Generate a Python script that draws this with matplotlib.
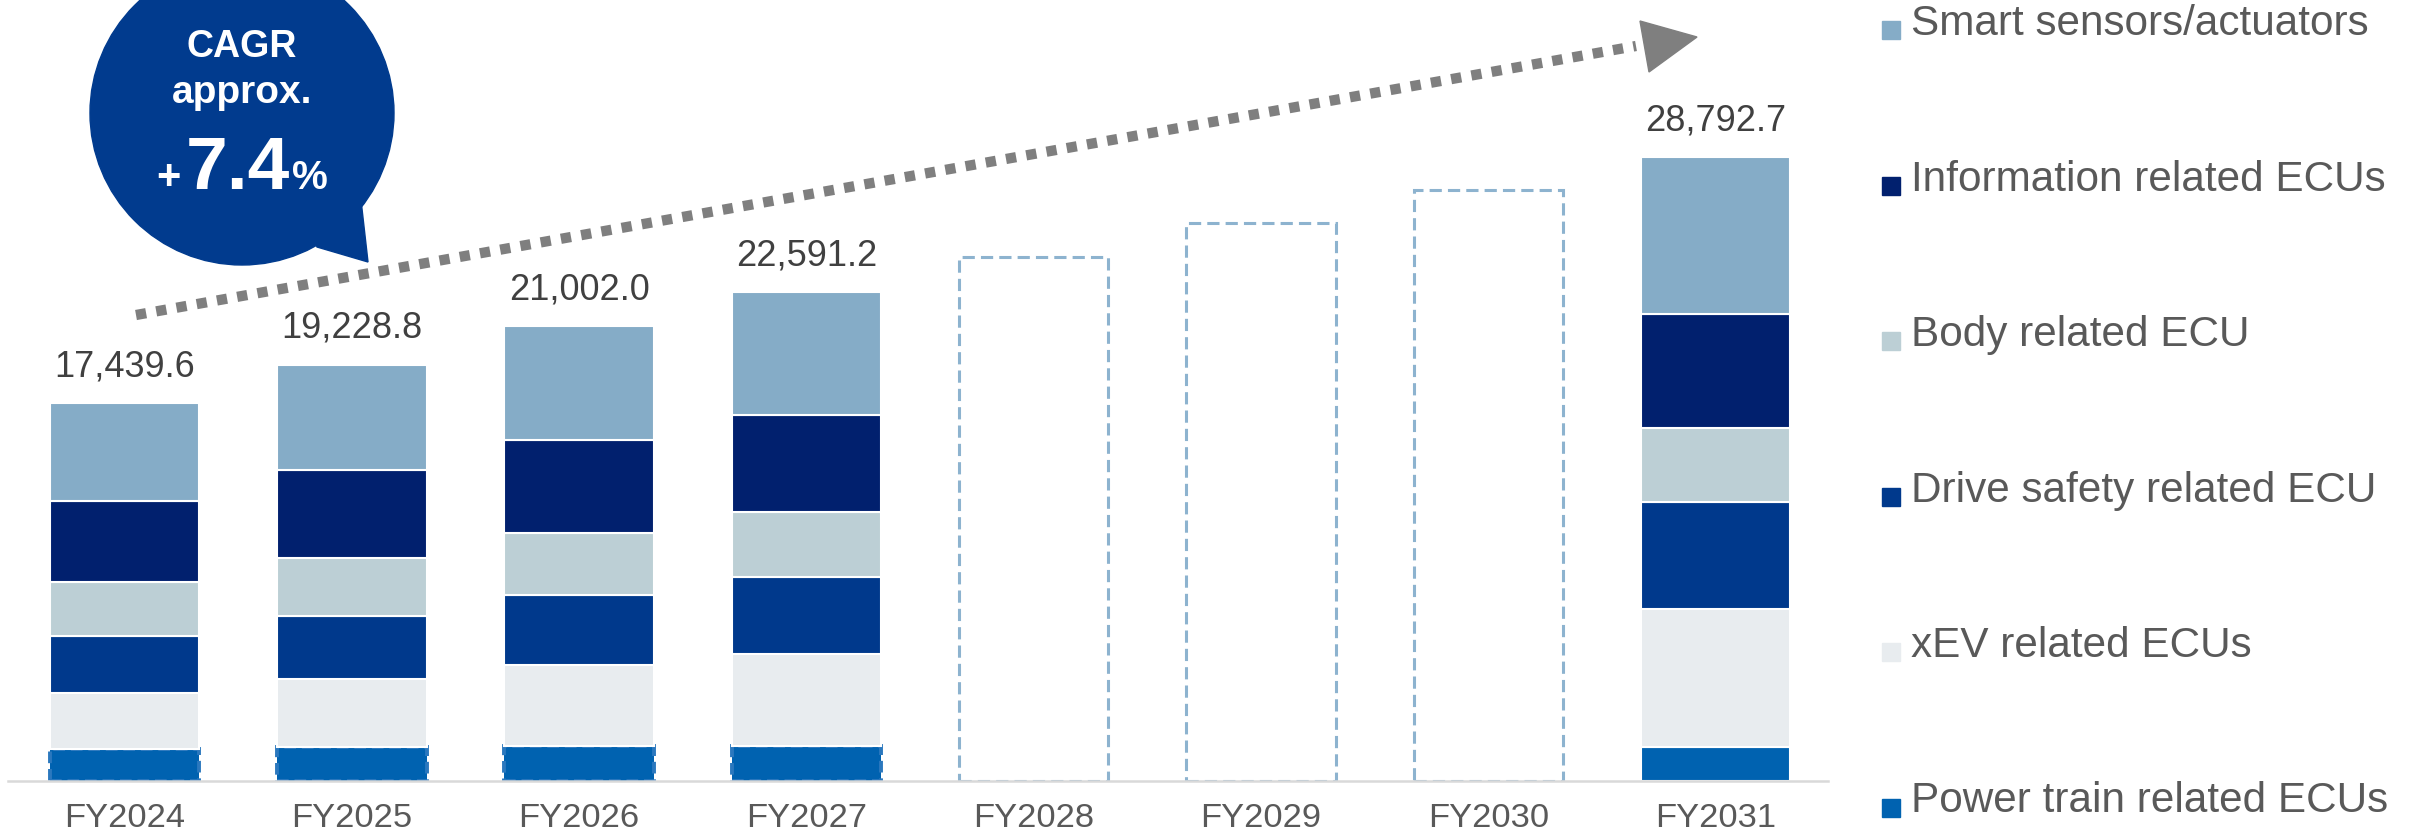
import matplotlib
matplotlib.use("Agg")
import matplotlib.pyplot as plt
from matplotlib.patches import Circle, Polygon, Rectangle

plt.rcParams['font.family'] = ['Liberation Sans', 'DejaVu Sans']

years = ["FY2024", "FY2025", "FY2026", "FY2027", "FY2028", "FY2029", "FY2030", "FY2031"]

# stacked breakdown (bottom to top) for the years with figures
stack_years = ["FY2024", "FY2025", "FY2026", "FY2027", "FY2031"]
power_train = [1500.0, 1560.0, 1600.0, 1616.0, 1589.0]
xev = [2575.0, 3165.0, 3750.0, 4250.0, 6357.0]
drive_safety = [2635.0, 2900.0, 3230.0, 3560.0, 4954.0]
body = [2465.0, 2655.0, 2880.0, 2987.0, 3406.0]
information = [3745.0, 4085.0, 4280.0, 4488.0, 5263.0]
smart_sensors = [4519.6, 4863.8, 5262.0, 5690.2, 7223.7]

# years shown only as dashed outlines
outline_years = ["FY2028", "FY2029", "FY2030"]
outline_totals = [24200, 25750, 27300]

series_names = ["Power train related ECUs", "xEV related ECUs", "Drive safety related ECU",
                "Body related ECU", "Information related ECUs", "Smart sensors/actuators"]
series_values = [power_train, xev, drive_safety, body, information, smart_sensors]
series_colors = ["#0062B0", "#E8ECEF", "#00398C", "#BCCFD5", "#01206E", "#85ACC7"]

cagr_text = "7.4"

W, H = 2418, 834
fig = plt.figure(figsize=(W / 100, H / 100), dpi=100)

# main bar axes, baseline at y=781px
ax = fig.add_axes([8 / W, 1 - 781 / H, (1828 - 8) / W, 781 / H])
step = 227.3
ax.set_xlim((8 - 124.5) / step, (1828 - 124.5) / step)
ax.set_ylim(0, 781 * 46.17)
bar_w = 149.5 / step

xpos = [years.index(y) for y in stack_years]
bottom = [0.0] * len(xpos)
for name, vals, col in zip(series_names, series_values, series_colors):
    if name == series_names[0]:
        # estimated years get a dashed rim on the power train block
        for x, v, b, yr in zip(xpos, vals, bottom, stack_years):
            if yr == "FY2031":
                ax.bar(x, v, bar_w, bottom=b, color=col, edgecolor="white", linewidth=1.5)
            else:
                ax.bar(x, v, bar_w, bottom=b, color=col, edgecolor="#2B78BE",
                       linewidth=2.8, linestyle=(0, (3, 1.5)))
    else:
        ax.bar(xpos, vals, bar_w, bottom=bottom, color=col, edgecolor="white", linewidth=1.5)
    bottom = [b + v for b, v in zip(bottom, vals)]

for x, total in zip(xpos, bottom):
    ax.annotate(f"{total:,.1f}", (x, total), xytext=(0, 26), textcoords="offset points",
                ha="center", va="center", fontsize=26, color="#404040")

ox = [years.index(y) for y in outline_years]
ax.bar(ox, outline_totals, bar_w, fill=False, edgecolor="#8DB3CF", linewidth=2.2,
       linestyle=(0, (4, 2)))

ax.set_xticks(range(len(years)))
ax.set_xticklabels(years, fontsize=24.8, color="#595959")
ax.tick_params(axis="x", length=0, pad=16)
ax.set_yticks([])
for s in ["top", "left", "right"]:
    ax.spines[s].set_visible(False)
ax.spines["bottom"].set_color("#D9D9D9")
ax.spines["bottom"].set_linewidth(1.8)
ax.spines["bottom"].set_zorder(3)

# overlay in pixel units for the bubble, arrow and legend
deco = fig.add_axes([0, 0, 1, 1], zorder=5)
deco.set_xlim(0, W)
deco.set_ylim(H, 0)
deco.axis("off")
deco.patch.set_alpha(0)

bubble_col = "#013B8E"
deco.add_patch(Circle((242, 113), 152, color=bubble_col))
deco.add_patch(Polygon([(300, 200), (317, 247), (368, 262), (361, 200)], color=bubble_col))
deco.text(242, 47, "CAGR", ha="center", va="center", color="white", fontsize=27,
          fontweight="bold")
deco.text(242, 93, "approx.", ha="center", va="center", color="white", fontsize=28,
          fontweight="bold")
deco.text(238, 189, cagr_text, ha="center", va="baseline", color="white", fontsize=54,
          fontweight="bold")
deco.text(181, 189, "+", ha="right", va="baseline", color="white", fontsize=30,
          fontweight="bold")
deco.text(292, 189, "%", ha="left", va="baseline", color="white", fontsize=29,
          fontweight="bold")

# dotted growth arrow
deco.plot([136, 1636], [315, 46], color="#7F7F7F", linewidth=7.4,
          linestyle=(0, (1, 1)), dash_capstyle="butt")
deco.add_patch(Polygon([(1640, 21), (1697, 37), (1649, 72)], color="#7F7F7F"))

# legend, top entry first
for i, (name, col) in enumerate(zip(series_names[::-1], series_colors[::-1])):
    base = 35 + 155.5 * i
    deco.add_patch(Rectangle((1882, base + 4 - 18), 18, 18, color=col))
    deco.text(1911, base, name, ha="left", va="baseline", fontsize=30.4, color="#595959")

fig.savefig("out.png", dpi=100)
